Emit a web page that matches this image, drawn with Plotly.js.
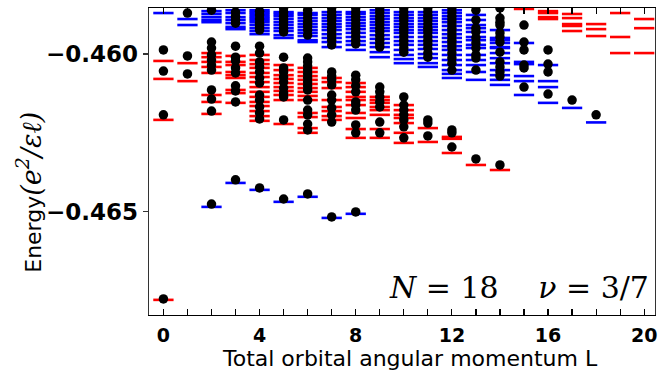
<!DOCTYPE html>
<html><head><meta charset="utf-8">
<script src="https://cdn.plot.ly/plotly-3.0.1.min.js"></script>
<style>html,body{margin:0;padding:0;background:#fff}#plot{width:659px;height:371px}</style>
</head><body><div id="plot"></div>
<script>
// Angular momentum values L
const L_VALUES = [0,1,2,3,4,5,6,7,8,9,10,11,12,13,14,15,16,17,18,19,20];
const X_TICKS = [0,4,8,12,16,20];
const Y_TICKS = [-0.460,-0.465];
const Y_TICK_TEXT = ['\u22120.460','\u22120.465'];

// Red levels (energies per L)
const RED_E = [
 [-0.46022,-0.46079,-0.46209,-0.46780],
 [-0.46029,-0.46086],
 [-0.45997,-0.46010,-0.46025,-0.46041,-0.46060,-0.46130,-0.46152,-0.46190],
 [-0.46006,-0.46025,-0.46035,-0.46057,-0.46067,-0.46076,-0.46114,-0.46124,-0.46155],
 [-0.46003,-0.46019,-0.46032,-0.46044,-0.46060,-0.46073,-0.46089,-0.46105,-0.46120,-0.46136,-0.46152,-0.46165,-0.46181,-0.46197,-0.46212],
 [-0.46035,-0.46051,-0.46067,-0.46079,-0.46092,-0.46105,-0.46117,-0.46130,-0.46146,-0.46222],
 [-0.46044,-0.46057,-0.46070,-0.46082,-0.46095,-0.46108,-0.46120,-0.46133,-0.46146,-0.46187,-0.46200,-0.46235,-0.46250],
 [-0.46076,-0.46089,-0.46108,-0.46146,-0.46168,-0.46181,-0.46197,-0.46209],
 [-0.46092,-0.46105,-0.46120,-0.46136,-0.46146,-0.46162,-0.46187,-0.46203,-0.46238,-0.46266],
 [-0.46136,-0.46146,-0.46155,-0.46168,-0.46178,-0.46193,-0.46238,-0.46266],
 [-0.46162,-0.46178,-0.46193,-0.46203,-0.46219,-0.46250,-0.46282],
 [-0.46235,-0.46279],
 [-0.46263,-0.46269,-0.46314],
 [-0.46352],
 [-0.46368],
 [-0.45857],
 [-0.45864,-0.45870,-0.45883,-0.45889],
 [-0.45873,-0.45886,-0.45905,-0.45911,-0.45927],
 [-0.45905,-0.45921,-0.45943],
 [-0.45870,-0.45946,-0.45997],
 [-0.45889,-0.45918,-0.45997]
];

// Blue levels (energies per L)
const BLUE_E = [
 [-0.45870],
 [-0.45889,-0.45908],
 [-0.45864,-0.45873,-0.45883,-0.45892,-0.45899,-0.46485],
 [-0.45861,-0.45870,-0.45883,-0.45892,-0.45902,-0.45914,-0.45921,-0.46409],
 [-0.45861,-0.45867,-0.45873,-0.45880,-0.45886,-0.45892,-0.45899,-0.45908,-0.45918,-0.45927,-0.45937,-0.46431],
 [-0.45867,-0.45873,-0.45880,-0.45889,-0.45899,-0.45908,-0.45918,-0.45927,-0.45940,-0.45949,-0.46469],
 [-0.45870,-0.45876,-0.45886,-0.45895,-0.45905,-0.45914,-0.45924,-0.45933,-0.45943,-0.45956,-0.45962,-0.46453],
 [-0.45867,-0.45876,-0.45886,-0.45895,-0.45905,-0.45914,-0.45924,-0.45937,-0.45949,-0.45962,-0.45978,-0.46520],
 [-0.45867,-0.45873,-0.45883,-0.45892,-0.45902,-0.45911,-0.45921,-0.45933,-0.45946,-0.45959,-0.45971,-0.45987,-0.46507],
 [-0.45861,-0.45870,-0.45880,-0.45889,-0.45899,-0.45908,-0.45918,-0.45927,-0.45940,-0.45952,-0.45965,-0.45978,-0.45994,-0.46010],
 [-0.45867,-0.45876,-0.45886,-0.45895,-0.45905,-0.45914,-0.45924,-0.45933,-0.45946,-0.45959,-0.45971,-0.45987,-0.46003,-0.46016,-0.46029],
 [-0.45867,-0.45876,-0.45886,-0.45895,-0.45905,-0.45914,-0.45924,-0.45933,-0.45946,-0.45959,-0.45971,-0.45984,-0.46000,-0.46013,-0.46029,-0.46041],
 [-0.45861,-0.45870,-0.45880,-0.45889,-0.45899,-0.45911,-0.45924,-0.45937,-0.45949,-0.45962,-0.45975,-0.45987,-0.46003,-0.46019,-0.46035,-0.46051,-0.46063,-0.46076],
 [-0.45876,-0.45892,-0.45908,-0.45918,-0.45930,-0.45946,-0.45956,-0.45971,-0.45981,-0.46003,-0.46019,-0.46035,-0.46057,-0.46082],
 [-0.45924,-0.45949,-0.45956,-0.45965,-0.45978,-0.45981,-0.45997,-0.46013,-0.46029,-0.46051,-0.46067,-0.46082,-0.46098],
 [-0.45965,-0.46025,-0.46032,-0.46070,-0.46086,-0.46130],
 [-0.46035,-0.46086,-0.46105,-0.46155],
 [-0.46171],
 [-0.46217],
 [],
 []
];

// Black dots (energies per L)
const DOT_E = [
 [-0.45987,-0.46054,-0.46193,-0.46777],
 [-0.45870,-0.46006,-0.46063],
 [-0.45861,-0.45962,-0.45981,-0.46003,-0.46019,-0.46035,-0.46051,-0.46114,-0.46143,-0.46181,-0.46476],
 [-0.45867,-0.45880,-0.45892,-0.45902,-0.45975,-0.46010,-0.46022,-0.46044,-0.46060,-0.46101,-0.46117,-0.46152,-0.46399],
 [-0.45864,-0.45876,-0.45889,-0.45902,-0.45914,-0.45924,-0.45975,-0.45997,-0.46025,-0.46041,-0.46057,-0.46076,-0.46092,-0.46130,-0.46146,-0.46168,-0.46187,-0.46206,-0.46425],
 [-0.45854,-0.45867,-0.45880,-0.45892,-0.45905,-0.45918,-0.45930,-0.46010,-0.46044,-0.46057,-0.46073,-0.46089,-0.46108,-0.46124,-0.46136,-0.46209,-0.46460],
 [-0.45861,-0.45873,-0.45886,-0.45899,-0.45911,-0.45924,-0.45940,-0.46013,-0.46025,-0.46038,-0.46051,-0.46063,-0.46076,-0.46089,-0.46101,-0.46114,-0.46146,-0.46178,-0.46193,-0.46222,-0.46241,-0.46444],
 [-0.45854,-0.45867,-0.45880,-0.45892,-0.45905,-0.45918,-0.45930,-0.45943,-0.45956,-0.45971,-0.46057,-0.46070,-0.46082,-0.46098,-0.46130,-0.46146,-0.46171,-0.46193,-0.46216,-0.46517],
 [-0.45854,-0.45867,-0.45880,-0.45892,-0.45905,-0.45918,-0.45930,-0.45943,-0.45956,-0.45968,-0.46067,-0.46082,-0.46101,-0.46120,-0.46152,-0.46162,-0.46178,-0.46225,-0.46250,-0.46501],
 [-0.45854,-0.45867,-0.45880,-0.45892,-0.45905,-0.45918,-0.45930,-0.45943,-0.45956,-0.45968,-0.45978,-0.46105,-0.46120,-0.46136,-0.46152,-0.46168,-0.46216,-0.46250],
 [-0.45854,-0.45867,-0.45880,-0.45892,-0.45905,-0.45918,-0.45930,-0.45943,-0.45956,-0.45968,-0.45981,-0.45994,-0.46136,-0.46162,-0.46178,-0.46193,-0.46209,-0.46231,-0.46266],
 [-0.45854,-0.45867,-0.45880,-0.45892,-0.45905,-0.45918,-0.45930,-0.45943,-0.45956,-0.45968,-0.45981,-0.45997,-0.46010,-0.46209,-0.46219,-0.46260],
 [-0.45854,-0.45867,-0.45880,-0.45892,-0.45905,-0.45918,-0.45930,-0.45943,-0.45956,-0.45968,-0.45981,-0.45997,-0.46013,-0.46029,-0.46051,-0.46241,-0.46250,-0.46295],
 [-0.45861,-0.45892,-0.45918,-0.45930,-0.45949,-0.45965,-0.45981,-0.46003,-0.46013,-0.46051,-0.46333],
 [-0.45854,-0.45886,-0.45899,-0.45908,-0.45933,-0.45946,-0.45962,-0.45994,-0.46025,-0.46041,-0.46057,-0.46070,-0.46352],
 [-0.45908,-0.45962,-0.45987,-0.46035,-0.46044,-0.46105],
 [-0.45987,-0.46032,-0.46057,-0.46127],
 [-0.46146],
 [-0.46193],
 [],
 []
];

function flatten(levels){
  const xs=[], ys=[];
  levels.forEach((arr,i)=>arr.forEach(e=>{xs.push(L_VALUES[i]); ys.push(e);}));
  return {xs, ys};
}
const red = flatten(RED_E), blue = flatten(BLUE_E), dots = flatten(DOT_E);

const dashMarker = (c)=>({symbol:'line-ew', size:14.5, color:c, line:{color:c, width:2.6}});
const traces = [
  {x:blue.xs, y:blue.ys, type:'scatter', mode:'markers', marker:dashMarker('#0000ff'), hoverinfo:'skip', showlegend:false},
  {x:red.xs, y:red.ys, type:'scatter', mode:'markers', marker:dashMarker('#ff0000'), hoverinfo:'skip', showlegend:false},
  {x:dots.xs, y:dots.ys, type:'scatter', mode:'markers', marker:{symbol:'circle', size:9.5, color:'#000000'}, hoverinfo:'skip', showlegend:false}
];

const layout = {
  width:659, height:371,
  margin:{l:149, r:4, t:8, b:56},
  paper_bgcolor:'#ffffff', plot_bgcolor:'#ffffff',
  showlegend:false,
  xaxis:{
    range:[-0.6,20.45], tickmode:'array', tickvals:X_TICKS, ticktext:X_TICKS.map(String),
    ticks:'inside', ticklen:6, tickwidth:1.2, tickcolor:'#000',
    minor:{tickmode:'linear', tick0:0, dtick:1, ticks:'inside', ticklen:6, tickwidth:1.2, tickcolor:'#000'},
    showline:true, linecolor:'#000', linewidth:1.3, mirror:'allticks', showgrid:false, zeroline:false,
    ticklabelstandoff:3,
    tickfont:{family:'DejaVu Sans', size:19, color:'#000', weight:'bold'}
  },
  yaxis:{
    range:[-0.46828,-0.45854], tickmode:'array', tickvals:Y_TICKS, ticktext:Y_TICK_TEXT,
    ticks:'outside', ticklen:5, tickwidth:1.2, tickcolor:'#333',
    showline:true, linecolor:'#333', linewidth:1.3, mirror:true, showgrid:false, zeroline:false,
    tickfont:{family:'DejaVu Sans', size:23, color:'#000', weight:'bold'}
  },
  annotations:[
    {xref:'paper', yref:'paper', x:-0.238, y:0.40, xanchor:'center', yanchor:'middle', textangle:-90, showarrow:false,
     text:"Energy<span style=\"font-family:'DejaVu Serif';font-style:italic;font-size:27px\">(e<sup>2</sup>/εℓ)</span>",
     font:{family:'DejaVu Sans', size:22, color:'#000'}},
    {xref:'paper', yref:'paper', x:0.516, y:-0.143, xanchor:'center', yanchor:'middle', showarrow:false,
     text:'Total orbital angular momentum L',
     font:{family:'DejaVu Sans', size:22, color:'#000'}},
    {xref:'paper', yref:'paper', x:0.992, y:0.09, xanchor:'right', yanchor:'middle', showarrow:false,
     text:"<i>N</i> = 18\u2003 <i>ν</i> = 3/7",
     font:{family:'DejaVu Serif', size:30, color:'#000'}}
  ]
};
Plotly.newPlot('plot', traces, layout, {staticPlot:true, displayModeBar:false});
</script></body></html>
